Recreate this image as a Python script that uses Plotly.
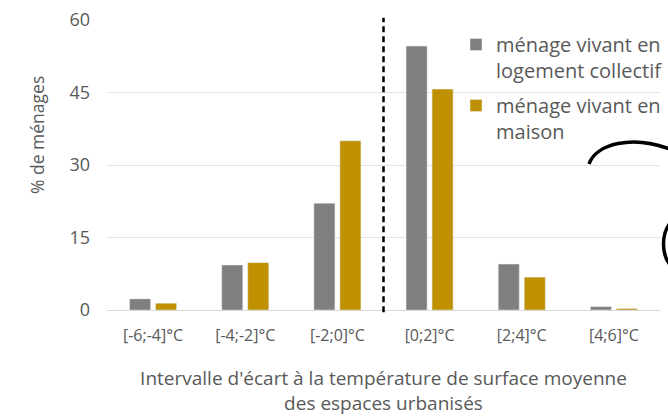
import plotly.graph_objects as go

categories = ["[-6;-4]°C", "[-4;-2]°C", "[-2;0]°C", "[0;2]°C", "[2;4]°C", "[4;6]°C"]
collectif = [2.3, 9.3, 22.1, 54.6, 9.5, 0.7]
maison = [1.4, 9.8, 35.0, 45.7, 6.8, 0.3]
series_names = ["ménage vivant en<br>logement collectif", "ménage vivant en<br>maison"]
y_ticks = [0, 15, 30, 45, 60]

FONT = "Open Sans"
TXT = "#595959"

fig = go.Figure()
fig.add_trace(go.Bar(x=categories, y=collectif, name=series_names[0], marker_color="#7f7f7f",
                     legendgroup="a"))
fig.add_trace(go.Bar(x=categories, y=maison, name=series_names[1], marker_color="#bf9000",
                     legendgroup="b"))

L, R, T, B = 107, 8, 20, 106
W, H = 668, 416
pw = W - L - R
ph = H - T - B

def px(x):
    return (x - L) / pw

def py(y):
    return (H - B - y) / ph

shapes = [
    dict(type="line", xref="x", yref="paper", x0=2.5, x1=2.5, y0=-0.008, y1=1.008,
         line=dict(color="black", width=2.5, dash="6px,4px"), layer="above"),
    dict(type="path", xref="paper", yref="paper",
         path=f"M {px(589)},{py(164)} C {px(596)},{py(144)} {px(632)},{py(134)} {px(672)},{py(150)}",
         line=dict(color="black", width=3.5)),
    dict(type="path", xref="paper", yref="paper",
         path=f"M {px(671)},{py(222)} C {px(661)},{py(233)} {px(661)},{py(255)} {px(671)},{py(266)}",
         line=dict(color="black", width=3.5)),
]

fig.update_layout(
    width=W, height=H,
    margin=dict(l=L, r=R, t=T, b=B, autoexpand=False),
    paper_bgcolor="white", plot_bgcolor="white",
    font=dict(family=FONT, color=TXT),
    barmode="group", bargap=0.436, bargroupgap=0.19,
    showlegend=True,
    legend=dict(x=px(456), y=py(25), xanchor="left", yanchor="top",
                bgcolor="rgba(0,0,0,0)", font=dict(size=20, color=TXT),
                valign="top", tracegroupgap=6),
    shapes=shapes,
    annotations=[dict(text="% de ménages", xref="paper", yref="paper",
                      x=px(37), y=py(135), textangle=-90, showarrow=False,
                      font=dict(size=17.5, color=TXT), xanchor="center", yanchor="middle")],
)
fig.update_xaxes(
    showgrid=False, showline=False, zeroline=False, automargin=False,
    tickfont=dict(size=16, color=TXT), ticklabelstandoff=14,
    title=dict(text="Intervalle d'écart à la température de surface moyenne<br>des espaces urbanisés",
               font=dict(size=19, color=TXT), standoff=31),
)
fig.update_yaxes(
    range=[0, 60], tickvals=y_ticks, showgrid=True, gridcolor="#e3e3e3", gridwidth=1,
    zeroline=True, zerolinecolor="#d9d9d9", zerolinewidth=1, showline=False, automargin=False,
    tickfont=dict(size=18, color=TXT), ticklabelstandoff=16,
)

fig.write_html("out.html", config={"displayModeBar": False},
               post_script="document.body.style.margin='0';document.body.style.overflow='hidden';")
